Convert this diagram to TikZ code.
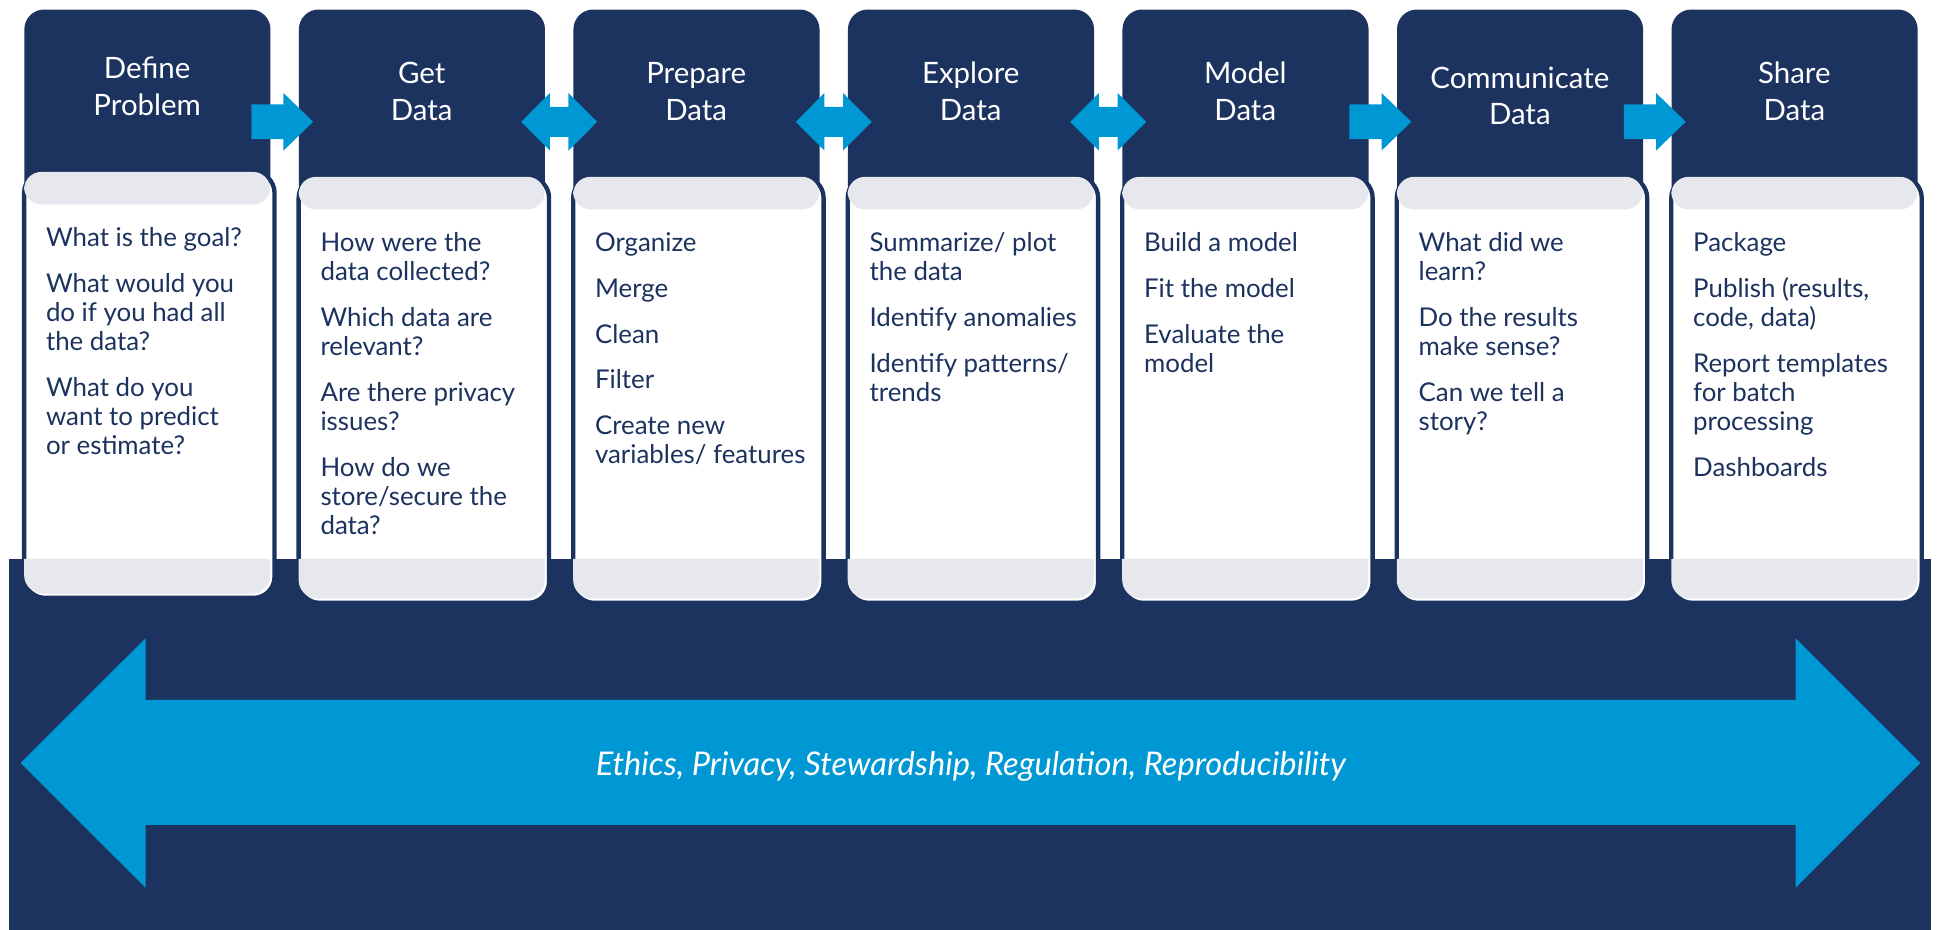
\documentclass[tikz,border=0pt]{standalone}
\usepackage{fontspec}
\setmainfont{Lato}
\usetikzlibrary{calc}
\definecolor{navy}{RGB}{28,50,95}
\definecolor{arrowblue}{RGB}{0,152,212}
\definecolor{bandgray}{RGB}{231,232,238}
\newcommand{\ttlfont}{\fontsize{23.8}{29.7}\selectfont}
\newcommand{\bdyfont}{\fontsize{20.9}{23.5}\selectfont}
\newcommand{\ethfont}{\fontsize{26.4}{32}\selectfont\itshape}
\newcommand{\psk}{\\[13.5pt]}
\begin{document}
\begin{tikzpicture}[x=1pt,y=-1pt,
  hdr/.style={fill=navy, rounded corners=16pt, inner sep=0pt, minimum width=199pt, minimum height=181.6pt, anchor=north west},
  card/.style={draw=navy, line width=3.5pt, fill=white, rounded corners=17pt, inner sep=0pt, minimum width=202.5pt, minimum height=344.5pt, anchor=north west},
  panelbox/.style={fill=navy, inner sep=0pt, minimum width=1554.3pt, minimum height=300pt, anchor=north west},
  ttl/.style={text=white, inner sep=0pt, anchor=base, font=\ttlfont},
  bdy/.style={text=navy, inner sep=0pt, anchor=base west, font=\bdyfont},
  band/.style={fill=bandgray},
  blockarrow/.style={fill=arrowblue},
]
\useasboundingbox (0,0) rectangle (1568,752);
% header boxes
\foreach \i in {0,...,6} \node[hdr] (h\i) at ({19.5+222*\i},7.5) {};
% single arrows
\foreach \a/\b in {0/1,4/5,5/6}{
  \fill[blockarrow] let \p1=($(h\a.east)!0.5!(h\b.west)$) in
    (\x1-27pt,\y1+14.1pt) -- (\x1-1pt,\y1+14.1pt) -- (\x1-1pt,\y1+23.3pt) -- (\x1+23pt,\y1)
    -- (\x1-1pt,\y1-23.3pt) -- (\x1-1pt,\y1-14.1pt) -- (\x1-27pt,\y1-14.1pt) -- cycle;
}
% double arrows
\foreach \a/\b in {1/2,2/3,3/4}{
  \fill[blockarrow] let \p1=($(h\a.east)!0.5!(h\b.west)$) in
    (\x1-30.7pt,\y1) -- (\x1-7.5pt,\y1+23.3pt) -- (\x1-7.5pt,\y1+12.1pt) -- (\x1+7.5pt,\y1+12.1pt)
    -- (\x1+7.5pt,\y1+23.3pt) -- (\x1+30.7pt,\y1) -- (\x1+7.5pt,\y1-23.3pt) -- (\x1+7.5pt,\y1-12.1pt)
    -- (\x1-7.5pt,\y1-12.1pt) -- (\x1-7.5pt,\y1-23.3pt) -- cycle;
}
% bottom panel
\node[panelbox] (panel) at (7.3,452) {};
\fill[blockarrow] (16.7,617) -- (117.8,516) -- (117.8,566) -- (1452,566) -- (1452,516) -- (1553,617)
  -- (1452,718) -- (1452,667) -- (117.8,667) -- (117.8,718) -- cycle;
\node[text=white, inner sep=0pt, anchor=base, font=\ethfont] (eth) at (785,627.5)
  {Ethics, Privacy, Stewardship, Regulation, Reproducibility};
% cards
\foreach \i/\dy in {0/-4,1/0,2/0,3/0,4/0,5/0,6/0}{
  \node[card] (c\i) at ({19.5+222*\i-1.75},{141.25+\dy}) {};
  \fill[band, rounded corners=14pt] ({19.5+222*\i},{143+\dy}) rectangle ({218.5+222*\i},{169.3+\dy});
  \fill[band] ({19.5+222*\i},452) [rounded corners=15pt] -- ({19.5+222*\i},{484+\dy})
    -- ({218.5+222*\i},{484+\dy}) [sharp corners] -- ({218.5+222*\i},452) -- cycle;
}
% titles
\node[ttl] (t0) at (119,63.3) {\begin{tabular}[t]{@{}c@{}}Define\\Problem\end{tabular}};
\node[ttl] (t1) at (341,67.7) {\begin{tabular}[t]{@{}c@{}}Get\\Data\end{tabular}};
\node[ttl] (t2) at (563,67.7) {\begin{tabular}[t]{@{}c@{}}Prepare\\Data\end{tabular}};
\node[ttl] (t3) at (785,67.7) {\begin{tabular}[t]{@{}c@{}}Explore\\Data\end{tabular}};
\node[ttl] (t4) at (1007,67.7) {\begin{tabular}[t]{@{}c@{}}Model\\Data\end{tabular}};
\node[ttl] (t5) at (1229,71.2) {\begin{tabular}[t]{@{}c@{}}Communicate\\Data\end{tabular}};
\node[ttl] (t6) at (1451,67.4) {\begin{tabular}[t]{@{}c@{}}Share\\Data\end{tabular}};
% body texts
\node[bdy] (b0) at (37,199.5) {\begin{tabular}[t]{@{}l@{}}What is the goal?\psk
What would you\\do if you had all\\the data?\psk
What do you\\want to predict\\or estimate?\end{tabular}};
\node[bdy] (b1) at (259,203.5) {\begin{tabular}[t]{@{}l@{}}How were the\\data collected?\psk
Which data are\\relevant?\psk
Are there privacy\\issues?\psk
How do we\\store/secure the\\data?\end{tabular}};
\node[bdy] (b2) at (481,203.5) {\begin{tabular}[t]{@{}l@{}}Organize\psk Merge\psk Clean\psk Filter\psk
Create new\\variables/ features\end{tabular}};
\node[bdy] (b3) at (703,203.5) {\begin{tabular}[t]{@{}l@{}}Summarize/ plot\\the data\psk
Identify anomalies\psk
Identify patterns/\\trends\end{tabular}};
\node[bdy] (b4) at (925,203.5) {\begin{tabular}[t]{@{}l@{}}Build a model\psk
Fit the model\psk
Evaluate the\\model\end{tabular}};
\node[bdy] (b5) at (1147,203.5) {\begin{tabular}[t]{@{}l@{}}What did we\\learn?\psk
Do the results\\make sense?\psk
Can we tell a\\story?\end{tabular}};
\node[bdy] (b6) at (1369,203.5) {\begin{tabular}[t]{@{}l@{}}Package\psk
Publish (results,\\code, data)\psk
Report templates\\for batch\\processing\psk
Dashboards\end{tabular}};
\end{tikzpicture}
\end{document}
